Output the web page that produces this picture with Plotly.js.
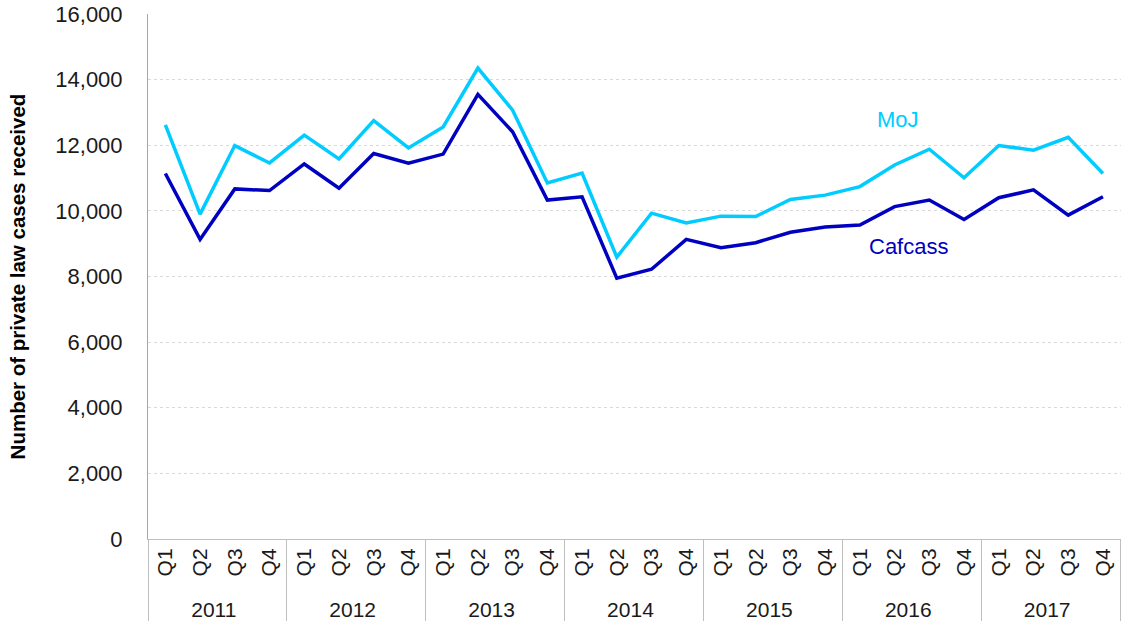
<!DOCTYPE html>
<html>
<head>
<meta charset="utf-8">
<script src="https://cdn.plot.ly/plotly-3.0.1.min.js"></script>
<style>html,body{margin:0;padding:0;background:#fff;}#chart{width:1128px;height:621px;}</style>
</head>
<body>
<div id="chart"></div>
<script>
const years = ['2011','2012','2013','2014','2015','2016','2017'];
const quarters = ['Q1','Q2','Q3','Q4'];
const mojValues = [12620, 9900, 11990, 11460, 12310, 11580, 12750, 11920,
                   12560, 14350, 13070, 10850, 11150, 8590, 9930, 9630,
                   9840, 9830, 10350, 10480, 10740, 11400, 11880, 11010,
                   11990, 11850, 12240, 11140];
const cafcassValues = [11140, 9130, 10670, 10620, 11430, 10690, 11750, 11450,
                       11730, 13550, 12410, 10330, 10430, 7950, 8220, 9130,
                       8880, 9030, 9350, 9510, 9570, 10130, 10330, 9740,
                       10400, 10640, 9870, 10430];
const yTicks = [0, 2000, 4000, 6000, 8000, 10000, 12000, 14000, 16000];

const xYears = [], xQuarters = [];
years.forEach(y => quarters.forEach(q => { xYears.push(y); xQuarters.push(q); }));

const traces = [
  {x: [xYears, xQuarters], y: mojValues, type: 'scatter', mode: 'lines', name: 'MoJ',
   line: {color: '#00CCFF', width: 3.5}},
  {x: [xYears, xQuarters], y: cafcassValues, type: 'scatter', mode: 'lines', name: 'Cafcass',
   line: {color: '#0000C0', width: 3.5}}
];

const layout = {
  width: 1128, height: 621,
  margin: {l: 148, r: 7, t: 14, b: 82},
  paper_bgcolor: '#fff', plot_bgcolor: '#fff',
  showlegend: false,
  font: {family: 'Liberation Sans, Arial, sans-serif', color: '#000'},
  xaxis: {
    type: 'multicategory',
    range: [-0.5, 27.52],
    tickangle: -90,
    tickfont: {size: 21, color: '#1a1a1a'},
    showline: true, linecolor: '#bfbfbf', linewidth: 1,
    showgrid: false, ticks: '',
    showdividers: true, dividercolor: '#bfbfbf', dividerwidth: 1,
    automargin: false
  },
  yaxis: {
    range: [0, 16000],
    tickvals: yTicks,
    tickformat: ',d',
    tickfont: {size: 22, color: '#1a1a1a'},
    ticklabelstandoff: 20,
    showline: true, linecolor: '#a6a6a6', linewidth: 1,
    showgrid: true, gridcolor: '#d9d9d9', griddash: 'dot', gridwidth: 1,
    zeroline: false, ticks: '', ticklen: 0,
    automargin: false,
    title: {text: 'Number of private law cases received',
            font: {family: 'Liberation Sans, Arial, sans-serif', size: 20.5, color: '#000', weight: 'bold'},
            standoff: 24}
  },
  annotations: [
    {xref: 'paper', yref: 'y', x: 0.794, y: 12800, text: 'MoJ', showarrow: false,
     font: {size: 22, color: '#00CCFF'}},
    {xref: 'paper', yref: 'y', x: 0.824, y: 8900, text: 'Cafcass', showarrow: false,
     font: {size: 22, color: '#0000C0'}}
  ]
};

Plotly.newPlot('chart', traces, layout, {displayModeBar: false, staticPlot: true});
</script>
</body>
</html>
